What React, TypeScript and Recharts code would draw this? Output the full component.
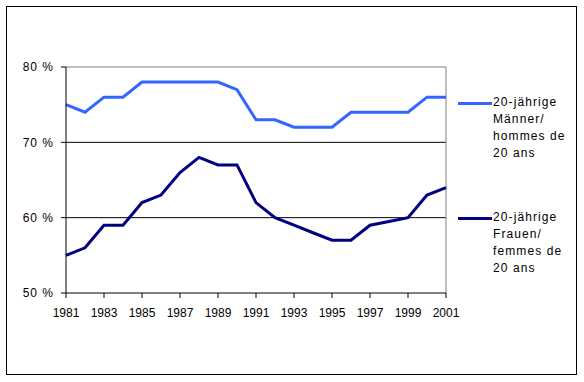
import React from "react";
import { LineChart, Line, XAxis, YAxis, CartesianGrid, ReferenceLine } from "recharts";

const years = [1981,1982,1983,1984,1985,1986,1987,1988,1989,1990,1991,1992,1993,1994,1995,1996,1997,1998,1999,2000,2001];
const men = [75,74,76,76,78,78,78,78,78,77,73,73,72,72,72,74,74,74,74,76,76];
const women = [55,56,59,59,62,63,66,68,67,67,62,60,59,58,57,57,59,59.5,60,63,64];
const xTicks = [1981,1983,1985,1987,1989,1991,1993,1995,1997,1999,2001];
const yTicks = [50,60,70,80];
const menLabel = ["20-jährige", "Männer/", "hommes de", "20 ans"];
const womenLabel = ["20-jährige", "Frauen/", "femmes de", "20 ans"];

const data = years.map((y, i) => ({ year: y, men: men[i], women: women[i] }));

const FONT = "'Liberation Sans', Arial, sans-serif";

const LegendItem = ({ color, lines, top }: { color: string; lines: string[]; top: number }) => (
  <div style={{ position: "absolute", left: 458, top, display: "flex", alignItems: "flex-start" }}>
    <div style={{ width: 34, height: 3, background: color, marginTop: 6, marginRight: 1 }} />
    <div style={{ fontFamily: FONT, fontSize: 12, lineHeight: "17px", letterSpacing: "1.1px", color: "#000", marginTop: -2 }}>
      {lines.map((l, i) => <div key={i}>{l}</div>)}
    </div>
  </div>
);

export default function App() {
  return (
    <div style={{ position: "absolute", left: 0, top: 0, width: 584, height: 382, background: "#fff" }}>
      <div style={{ position: "absolute", left: 6, top: 6, width: 569, height: 367, border: "1px solid #000" }} />
      <div style={{ position: "absolute", left: 0, top: 0 }}>
        <LineChart width={584} height={382} data={data} margin={{ top: 67, right: 138, bottom: 59, left: 0 }}>
          <CartesianGrid vertical={false} stroke="#000" strokeWidth={1} horizontalValues={[60, 70]} />
          <XAxis
            dataKey="year"
            type="number"
            domain={[1981, 2001]}
            ticks={xTicks}
            interval={0}
            height={30}
            stroke="#000"
            tickSize={5}
            tick={{ fill: "#000", fontSize: 12, fontFamily: FONT, dy: 8 }}
            tickLine={{ stroke: "#000" }}
            axisLine={{ stroke: "#000" }}
          />
          <YAxis
            width={66}
            domain={[50, 80]}
            ticks={yTicks}
            interval={0}
            tickSize={5}
            tickFormatter={(v: number) => `${v} %`}
            tick={{ fill: "#000", fontSize: 12, fontFamily: FONT, dx: -5, letterSpacing: "1px" }}
            tickLine={{ stroke: "#000" }}
            axisLine={{ stroke: "#000" }}
          />
          <ReferenceLine y={80} stroke="#808080" strokeWidth={1} />
          <ReferenceLine x={2001} stroke="#808080" strokeWidth={1} />
          <Line type="linear" dataKey="men" stroke="#3366FF" strokeWidth={3} dot={false} isAnimationActive={false} />
          <Line type="linear" dataKey="women" stroke="#000080" strokeWidth={3} dot={false} isAnimationActive={false} />
        </LineChart>
      </div>
      <LegendItem color="#3366FF" lines={menLabel} top={96} />
      <LegendItem color="#000080" lines={womenLabel} top={211} />
    </div>
  );
}
